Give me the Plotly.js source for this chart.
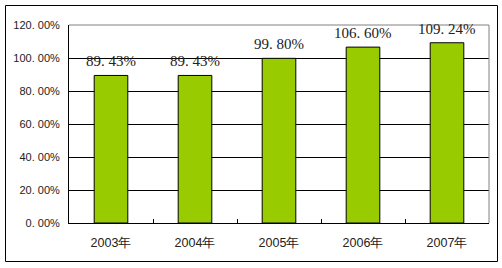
<!DOCTYPE html>
<html><head><meta charset="utf-8">
<script src="https://cdn.plot.ly/plotly-3.0.1.min.js"></script>
<style>body{margin:0;background:#fff}#c{width:502px;height:268px}</style>
</head><body><div id="c"></div>
<script>
var categories = ["2003年","2004年","2005年","2006年","2007年"];
var values = [89.43, 89.43, 99.80, 106.60, 109.24];
var valueLabels = ["89. 43%","89. 43%","99. 80%","106. 60%","109. 24%"];
var yTickVals = [0,20,40,60,80,100,120];
var yTickText = ["0. 00%","20. 00%","40. 00%","60. 00%","80. 00%","100. 00%","120. 00%"];

var trace = {
  type:'bar', x:categories, y:values,
  marker:{color:'#99CC00', line:{color:'#000', width:1}},
  width:0.4, hoverinfo:'none'
};
var annotations = categories.map(function(c,i){
  return {x:c, y:values[i], xref:'x', yref:'y', text:valueLabels[i], showarrow:false,
    yanchor:'bottom', yshift:4, font:{family:'Liberation Serif', size:15, color:'#222'}};
});
var layout = {
  width:502, height:268,
  margin:{l:69, r:13, t:25, b:45, pad:0},
  paper_bgcolor:'#fff', plot_bgcolor:'#fff',
  showlegend:false,
  xaxis:{type:'category', showline:true, linecolor:'#000', linewidth:1,
    ticks:'inside', tickson:'boundaries', ticklen:4, tickcolor:'#000',
    ticklabelstandoff:8,
    tickfont:{family:'Liberation Sans', size:12.5, color:'#222'}, showgrid:false, zeroline:false},
  yaxis:{range:[0,120], tickvals:yTickVals, ticktext:yTickText, showline:true, linecolor:'#000',
    showgrid:true, gridcolor:'#000', gridwidth:1, zeroline:false, ticks:'',
    ticklabelstandoff:6,
    tickfont:{family:'Liberation Sans', size:11, color:'#222'}},
  annotations:annotations,
  shapes:[
    {type:'line', xref:'paper', yref:'paper', x0:0, x1:1, y0:1, y1:1, line:{color:'#808080', width:1}},
    {type:'line', xref:'paper', yref:'paper', x0:1, x1:1, y0:0, y1:1, line:{color:'#808080', width:1}},
    {type:'rect', xref:'paper', yref:'paper', x0:(5.5-69)/420, x1:(497.5-69)/420,
     y0:(223-261.5)/198, y1:(223-5.5)/198, line:{color:'#000', width:1}}
  ]
};
Plotly.newPlot('c',[trace],layout,{displayModeBar:false, staticPlot:true});
</script></body></html>
